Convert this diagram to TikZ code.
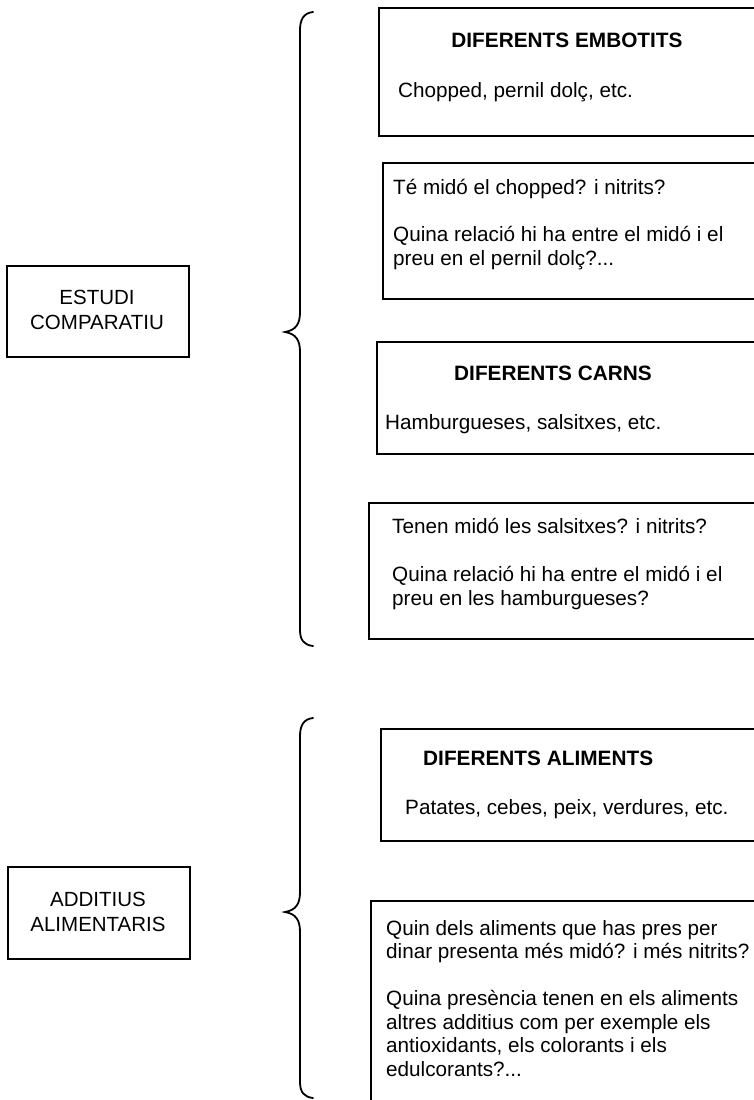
\documentclass[tikz,border=0pt]{standalone}
\usepackage{fontspec}
\setmainfont{Liberation Sans}
\begin{document}
\begin{tikzpicture}[x=1pt,y=-1pt,
  frame/.style={draw,line width=1.8pt,inner sep=0pt,anchor=north west},
  txt/.style={inner sep=0pt,anchor=base west,font=\fontsize{20.7}{23.5}\selectfont,align=left},
  ttl/.style={inner sep=0pt,anchor=base,font=\fontsize{20.8}{24}\selectfont\bfseries},
  side/.style={inner sep=0pt,anchor=base,font=\fontsize{20.5}{24.5}\selectfont,align=center},
  brace/.style={draw,line width=1.8pt,line cap=round}]
\clip (0,0) rectangle (754,1100);
\fill[white] (0,0) rectangle (754,1100);

% left-hand topic boxes (multi-line nodes sit on their last baseline)
\node[frame,minimum width=182pt,minimum height=91pt] (estudi) at (6,265) {};
\node[side] (estudiT) at (97,329) {ESTUDI\\COMPARATIU};
\node[frame,minimum width=182pt,minimum height=92pt] (additius) at (7,866) {};
\node[side] (additiusT) at (98,931) {ADDITIUS\\ALIMENTARIS};

% first group of boxes
\node[frame,minimum width=400pt,minimum height=128pt] (b1) at (378,7) {};
\node[ttl] (b1t) at (567,47) {DIFERENTS EMBOTITS};
\node[txt] (b1x) at (398,97) {Chopped, pernil dolç, etc.};

\node[frame,minimum width=400pt,minimum height=136pt] (b2) at (382,162) {};
\node[txt] (b2x) at (393,265) {Té midó el chopped? i nitrits?\\[23.5pt]Quina relació hi ha entre el midó i el\\preu en el pernil dolç?...};

\node[frame,minimum width=400pt,minimum height=112pt] (b3) at (376,341) {};
\node[ttl] (b3t) at (553,380) {DIFERENTS CARNS};
\node[txt] (b3x) at (385,429) {Hamburgueses, salsitxes, etc.};

\node[frame,minimum width=400pt,minimum height=136pt] (b4) at (368,502) {};
\node[txt] (b4x) at (392,605) {Tenen midó les salsitxes? i nitrits?\\[24.5pt]Quina relació hi ha entre el midó i el\\preu en les hamburgueses?};

% second group of boxes
\node[frame,minimum width=400pt,minimum height=112pt] (b5) at (380,728) {};
\node[ttl,anchor=base west] (b5t) at (423,765) {DIFERENTS ALIMENTS};
\node[txt] (b5x) at (405,814) {Patates, cebes, peix, verdures, etc.};

\node[frame,minimum width=400pt,minimum height=250pt] (b6) at (370,900) {};
\node[txt] (b6x) at (386,1076) {Quin dels aliments que has pres per\\dinar presenta més midó? i més nitrits?\\[23.5pt]Quina presència tenen en els aliments\\altres additius com per exemple els\\antioxidants, els colorants i els\\edulcorants?...};

% curly braces
\draw[brace] (313,12) .. controls (304,13) and (300,19) .. (300,30)
  -- (300,312) .. controls (300,324) and (296,330) .. (285,332)
  .. controls (296,334) and (300,340) .. (300,352)
  -- (300,630) .. controls (300,640) and (304,645) .. (313,646);
\draw[brace] (313,718) .. controls (304,719) and (300,725) .. (300,736)
  -- (300,892) .. controls (300,904) and (296,910) .. (285,912)
  .. controls (296,914) and (300,920) .. (300,932)
  -- (300,1082) .. controls (300,1092) and (304,1097) .. (313,1098);
\end{tikzpicture}
\end{document}
